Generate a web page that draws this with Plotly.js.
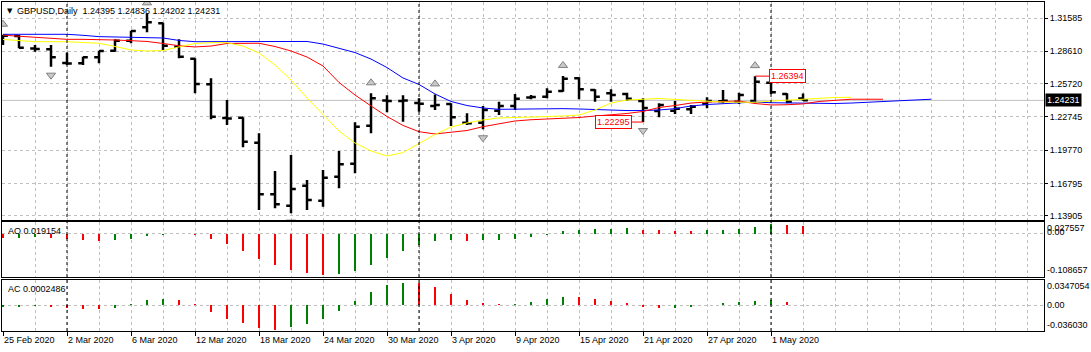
<!DOCTYPE html>
<html><head><meta charset="utf-8">
<script src="https://cdn.plot.ly/plotly-3.0.1.min.js"></script>
<style>html,body{margin:0;padding:0;background:#fff;} #chart{width:1091px;height:352px;}</style>
</head><body><div id="chart"></div>
<script>
const symbol = 'GBPUSD';
const timeframe = 'Daily';
const dates = ['25 Feb 2020','26 Feb 2020','27 Feb 2020','28 Feb 2020',
'2 Mar 2020','3 Mar 2020','4 Mar 2020','5 Mar 2020','6 Mar 2020',
'9 Mar 2020','10 Mar 2020','11 Mar 2020','12 Mar 2020','13 Mar 2020',
'16 Mar 2020','17 Mar 2020','18 Mar 2020','19 Mar 2020','20 Mar 2020',
'23 Mar 2020','24 Mar 2020','25 Mar 2020','26 Mar 2020','27 Mar 2020',
'30 Mar 2020','31 Mar 2020','1 Apr 2020','2 Apr 2020','3 Apr 2020',
'6 Apr 2020','7 Apr 2020','8 Apr 2020','9 Apr 2020','10 Apr 2020',
'13 Apr 2020','14 Apr 2020','15 Apr 2020','16 Apr 2020','17 Apr 2020',
'20 Apr 2020','21 Apr 2020','22 Apr 2020','23 Apr 2020','24 Apr 2020',
'27 Apr 2020','28 Apr 2020','29 Apr 2020','30 Apr 2020',
'1 May 2020','4 May 2020','5 May 2020'];
const open  = [1.2998,1.2998,1.2886,1.2879,1.2756,1.2754,1.2808,1.2867,1.2956,1.3075,
1.3111,1.2902,1.2795,1.2566,1.2265,1.2268,1.2045,1.1584,1.1482,1.1661,
1.1527,1.1741,1.1857,1.2197,1.2422,1.2418,1.2400,1.2373,1.2391,1.2224,
1.2224,1.2331,1.2373,1.2448,1.2456,1.2507,1.2620,1.2516,1.2486,1.2480,
1.2417,1.2328,1.2331,1.2343,1.2391,1.2415,1.2411,1.2417,1.2581,1.2480,1.24395];
const high  = [1.3009,1.3007,1.2917,1.2917,1.2849,1.2813,1.2867,1.2968,1.3045,1.3200,
1.3116,1.2968,1.2799,1.2620,1.2426,1.2272,1.2129,1.1792,1.1935,1.1712,
1.1801,1.1971,1.2227,1.2486,1.2468,1.2468,1.2441,1.2476,1.2397,1.2308,
1.2373,1.2411,1.2480,1.2471,1.2531,1.2641,1.2629,1.2522,1.2522,1.2491,
1.2441,1.2397,1.2417,1.2382,1.2450,1.2516,1.2491,1.26394,1.2590,1.2486,1.24836];
const low   = [1.2917,1.2888,1.2858,1.2724,1.2739,1.2739,1.2754,1.2858,1.2933,1.3031,
1.2873,1.2799,1.2486,1.2254,1.2203,1.2004,1.1444,1.1459,1.1415,1.1444,
1.1473,1.1638,1.1772,1.2129,1.2316,1.2232,1.2322,1.2337,1.2194,1.2203,
1.2165,1.2292,1.2337,1.2433,1.2441,1.2500,1.2433,1.2411,1.2411,1.2420,
1.22295,1.2272,1.2301,1.2301,1.2352,1.2397,1.2391,1.2397,1.2480,1.2397,1.24202];
const close = [1.3000,1.2893,1.2882,1.2808,1.2752,1.2808,1.2864,1.2956,1.3042,1.3120,
1.2911,1.2813,1.2569,1.2277,1.2260,1.2054,1.1584,1.1495,1.1631,1.1533,
1.1732,1.1852,1.2188,1.2441,1.2418,1.2421,1.2393,1.2382,1.2272,1.2218,
1.2337,1.2373,1.2438,1.2452,1.2500,1.2617,1.2522,1.2456,1.2471,1.2438,
1.2355,1.2382,1.2349,1.2366,1.2417,1.2419,1.2471,1.2590,1.2495,1.2411,1.24231];
// Alligator (shifted lines extend past the last bar)
const jaw = [1.3013,1.3013,1.3013,1.3013,1.3013,1.3004,1.2992,1.2989,1.2983,1.2983,
1.2980,1.2958,1.2947,1.2947,1.2950,1.2950,1.2953,1.2953,1.2953,1.2949,
1.2926,1.2891,1.2850,1.2792,1.2716,1.2623,1.2565,1.2480,1.2413,1.2377,
1.2355,1.2343,1.2346,1.2349,1.2349,1.2349,1.2346,1.2341,1.2334,1.2332,
1.2332,1.2337,1.2349,1.2373,1.2386,1.2395,1.2404,1.2408,1.2402,1.2399,
1.2397,1.2395,1.2395,1.2399,1.2406,1.2411,1.2420,1.2426,1.2433];
const teeth = [1.3005,1.2995,1.2984,1.2975,1.2968,1.2968,1.2968,1.2962,1.2956,1.2949,
1.2931,1.2911,1.2900,1.2908,1.2931,1.2933,1.2933,1.2904,1.2864,1.2810,
1.2730,1.2583,1.2471,1.2373,1.2279,1.2199,1.2143,1.2123,1.2136,1.2154,
1.2188,1.2216,1.2239,1.2250,1.2257,1.2261,1.2270,1.2283,1.2292,1.2306,
1.2324,1.2359,1.2377,1.2399,1.2408,1.2413,1.2417,1.2395,1.2382,1.2384,
1.2391,1.2413,1.2426,1.2433,1.2433,1.2433];
const lips = [1.2967,1.2955,1.2947,1.2947,1.2947,1.2940,1.2933,1.2904,1.2873,1.2864,
1.2868,1.2900,1.2931,1.2938,1.2938,1.2908,1.2846,1.2739,1.2605,1.2444,
1.2292,1.2149,1.2042,1.1971,1.1926,1.1957,1.2038,1.2118,1.2185,1.2221,
1.2248,1.2266,1.2270,1.2274,1.2277,1.2283,1.2292,1.2337,1.2399,1.2426,
1.2433,1.2440,1.2431,1.2422,1.2413,1.2408,1.2406,1.2406,1.2417,1.2426,
1.2433,1.2441,1.2449,1.2450];
const ao = [-0.0129,-0.0112,-0.0086,-0.0129,-0.0147,-0.0172,-0.0183,-0.0178,-0.0147,-0.0069,
-0.0043,-0.0017,-0.0043,-0.0155,-0.0284,-0.0440,-0.0647,-0.0802,-0.0931,-0.1034,
-0.1075,-0.1060,-0.0957,-0.0802,-0.0621,-0.0440,-0.0302,-0.0198,-0.0172,-0.0181,
-0.0172,-0.0165,-0.0147,-0.0095,-0.0043,0.0060,0.0103,0.0108,0.0129,0.0134,
0.0103,0.0078,0.0074,0.0071,0.0079,0.0103,0.0129,0.0181,0.0240,0.0232,0.019154];
const ac = [-0.0029,-0.0019,-0.0010,-0.0024,-0.0038,-0.0048,-0.0052,-0.0033,0.0019,0.0076,
0.0090,0.0076,0.0019,-0.0090,-0.0195,-0.0252,-0.0330,-0.0350,-0.0314,-0.0267,
-0.0195,-0.0076,0.0062,0.0190,0.0295,0.0325,0.0320,0.0262,0.0162,0.0076,
0.0033,0.0019,0.0022,0.0048,0.0090,0.0119,0.0115,0.0090,0.0062,0.0033,
-0.0024,-0.0038,-0.0036,-0.0024,0.0010,0.0033,0.0048,0.0062,0.0076,0.0048,0.0002486];
const fractalUp = [0, 9, 23, 27, 35, 47];
const fractalDown = [3, 18, 30, 40];
const priceTicks = [1.13905, 1.16795, 1.19770, 1.22745, 1.25720, 1.28610, 1.31585];
const aoScaleVals = [0.027557, 0, -0.108657];
const aoScaleText = ['0.027557', '0.00', '-0.108657'];
const acScaleVals = [0.0347054, 0, -0.036030];
const acScaleText = ['0.0347054', '0.00', '-0.036030'];
const markedHigh = 47, markedLow = 40;

// ---------- drawing ----------
const FONT = '"Liberation Sans", Arial, sans-serif';
const GREEN = '#008000', RED = '#FF0000', GRID = '#C0C0C0';
const n = dates.length, last = n - 1;
const idx = dates.map((_, i) => i);
const seq = len => Array.from({length: len}, (_, i) => i);
const f5 = v => v.toFixed(5);
const histColors = (v, firstUp) => v.map((x, i) => (i === 0 ? firstUp : x >= v[i - 1]) ? GREEN : RED);

const priceRange = [1.13591, 1.33014];
const ppx = (priceRange[1] - priceRange[0]) / 217.5;
const tickIdx = idx.filter(i => i % 4 === 0);
const monthStarts = idx.filter(i => i > 0 && dates[i].split(' ')[1] !== dates[i - 1].split(' ')[1]);

const traces = [
  {type:'scatter', mode:'lines', x:seq(jaw.length), y:jaw, xaxis:'x3', yaxis:'y3', line:{color:'#0000FF', width:1}, hoverinfo:'skip'},
  {type:'scatter', mode:'lines', x:seq(teeth.length), y:teeth, xaxis:'x3', yaxis:'y3', line:{color:'#FF0000', width:1}, hoverinfo:'skip'},
  {type:'scatter', mode:'lines', x:seq(lips.length), y:lips, xaxis:'x3', yaxis:'y3', line:{color:'#FFFF00', width:1}, hoverinfo:'skip'},
  {type:'ohlc', x:idx, open, high, low, close, xaxis:'x3', yaxis:'y3', tickwidth:0.3,
   increasing:{line:{color:'#000', width:2.5}}, decreasing:{line:{color:'#000', width:2.5}}, hoverinfo:'skip'},
  {type:'scatter', mode:'markers', x:fractalUp, y:fractalUp.map(i => high[i] + 10.5 * ppx), xaxis:'x3', yaxis:'y3',
   marker:{symbol:'triangle-up', size:8, color:'#C8C8C8', line:{color:'#808080', width:1}}, hoverinfo:'skip'},
  {type:'scatter', mode:'markers', x:fractalDown, y:fractalDown.map(i => low[i] - 8.5 * ppx), xaxis:'x3', yaxis:'y3',
   marker:{symbol:'triangle-down', size:8, color:'#C8C8C8', line:{color:'#808080', width:1}}, hoverinfo:'skip'},
  {type:'bar', x:idx, y:ao, xaxis:'x2', yaxis:'y2', width:0.17, marker:{color:histColors(ao, false), line:{width:0}}, hoverinfo:'skip'},
  {type:'bar', x:idx, y:ac, xaxis:'x', yaxis:'y', width:0.17, marker:{color:histColors(ac, true), line:{width:0}}, hoverinfo:'skip'}
];

const xRange = [-0.0625, 65.06];
const xBase = () => ({range:xRange.slice(), fixedrange:true, showline:true, mirror:true, linecolor:'#000', linewidth:1,
  zeroline:false, tickmode:'array', tickvals:tickIdx, showgrid:true, gridcolor:GRID, griddash:'3px,3px', gridwidth:1,
  minor:{tick0:0, dtick:2, showgrid:true, gridcolor:GRID, griddash:'3px,3px', gridwidth:1},
  ticks:'', showticklabels:false});
const tickfont = {family:FONT, size:9, color:'#000'};

const xaxis = Object.assign(xBase(), {anchor:'y', showticklabels:true, ticktext:tickIdx.map(i => dates[i]),
  ticks:'outside', ticklen:4, tickcolor:'#000', ticklabelposition:'outside right', tickfont});
const xaxis2 = Object.assign(xBase(), {anchor:'y2'});
const xaxis3 = Object.assign(xBase(), {anchor:'y3', rangeslider:{visible:false}});

const yBox = {side:'right', fixedrange:true, showline:true, mirror:true, linecolor:'#000', linewidth:1, zeroline:false,
  showgrid:true, gridcolor:GRID, griddash:'3px,3px', gridwidth:1};
const yaxis3 = Object.assign({}, yBox, {domain:[0.3389, 1], anchor:'x3', range:priceRange, tickmode:'array',
  tickvals:priceTicks, ticktext:priceTicks.map(f5), ticks:'outside', ticklen:3, tickcolor:'#000', tickfont});
const yaxis2 = Object.assign({}, yBox, {domain:[0.1641, 0.3313], anchor:'x2', range:[-0.11253, 0.02975],
  tickmode:'array', tickvals:[0], showticklabels:false, ticks:''});
const yaxis = Object.assign({}, yBox, {domain:[0, 0.1565], anchor:'x', range:[-0.03673, 0.03687],
  tickmode:'array', tickvals:[0], showticklabels:false, ticks:''});

const ann = [];
const txt = (o) => ann.push(Object.assign({showarrow:false, font:{family:FONT, size:9, color:'#000'}}, o));
txt({xref:'paper', yref:'paper', x:0, y:1, xanchor:'left', yanchor:'top', xshift:3, yshift:-3, text:'▼', font:{family:'DejaVu Sans', size:7, color:'#000'}});
txt({xref:'paper', yref:'paper', x:0, y:1, xanchor:'left', yanchor:'top', xshift:13, yshift:-2,
  text:`${symbol},${timeframe}\u00A0 ${f5(open[last])} ${f5(high[last])} ${f5(low[last])} ${f5(close[last])}`});
txt({xref:'paper', yref:'y2 domain', x:0, y:1, xanchor:'left', yanchor:'top', xshift:4, yshift:-2, text:'AO ' + ao[last].toFixed(6)});
txt({xref:'paper', yref:'y domain', x:0, y:1, xanchor:'left', yanchor:'top', xshift:4, yshift:-2, text:'AC ' + ac[last].toFixed(7)});
const aoShift = [-5.5, 1.8, 5.5], acShift = [-4.7, 0, 5.5];
aoScaleVals.forEach((v, k) => txt({xref:'paper', yref:'y2', x:1, y:v, xanchor:'left', yanchor:'middle', xshift:1, yshift:aoShift[k],
  text: aoScaleText[k]}));
acScaleVals.forEach((v, k) => txt({xref:'paper', yref:'y', x:1, y:v, xanchor:'left', yanchor:'middle', xshift:1, yshift:acShift[k],
  text: acScaleText[k]}));
txt({xref:'paper', yref:'y3', x:1, y:close[last], xanchor:'left', yanchor:'middle', xshift:1, text:f5(close[last]),
  bgcolor:'#000', borderpad:1, font:{family:FONT, size:9, color:'#fff'}});
const markLabel = (i, y, ax) => ann.push({xref:'x3', yref:'y3', x:i, y:y, text:f5(y), showarrow:true, arrowhead:0,
  arrowwidth:1, arrowcolor:RED, ax:ax, ay:0, bgcolor:'#fff', bordercolor:RED, borderwidth:1, borderpad:1,
  font:{family:FONT, size:9, color:RED}});
markLabel(markedHigh, high[markedHigh], 32);
markLabel(markedLow, low[markedLow], -30);

const shapes = [
  {type:'line', xref:'x3 domain', x0:0, x1:1, yref:'y3', y0:close[last], y1:close[last], line:{color:'#C0C0C0', width:1}, layer:'below'}
];
monthStarts.forEach(i => shapes.push({type:'line', xref:'x', x0:i, x1:i, yref:'paper', y0:0, y1:1,
  line:{color:'#000', width:1, dash:'3px,3px'}, layer:'above'}));

const layout = {width:1091, height:352, margin:{l:2, r:47, t:2, b:21}, paper_bgcolor:'#fff', plot_bgcolor:'#fff',
  showlegend:false, xaxis, xaxis2, xaxis3, yaxis, yaxis2, yaxis3, annotations:ann, shapes, bargap:0, font:{family:FONT, size:9}};
Plotly.newPlot('chart', traces, layout, {displayModeBar:false, staticPlot:true});
</script></body></html>
